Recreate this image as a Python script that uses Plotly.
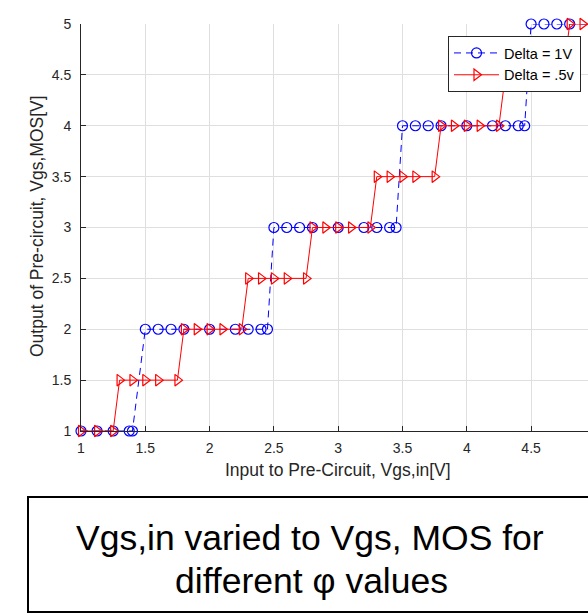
import plotly.graph_objects as go

# Delta = 1V series (blue circles, dashed line)
x_delta1 = [1.0, 1.125, 1.25, 1.375, 1.4,
            1.5, 1.6, 1.7, 1.8, 2.0, 2.2, 2.3, 2.4, 2.45,
            2.5, 2.6, 2.7, 2.8, 3.0, 3.2, 3.3, 3.4, 3.45,
            3.5, 3.6, 3.7, 3.8, 4.0, 4.2, 4.3, 4.4, 4.45,
            4.5, 4.6, 4.7, 4.8, 5.0]
y_delta1 = [1, 1, 1, 1, 1,
            2, 2, 2, 2, 2, 2, 2, 2, 2,
            3, 3, 3, 3, 3, 3, 3, 3, 3,
            4, 4, 4, 4, 4, 4, 4, 4, 4,
            5, 5, 5, 5, 5]

# Delta = .5v series (red triangles, solid line)
x_delta05 = [1.0, 1.125, 1.25,
             1.3, 1.4, 1.5, 1.6, 1.75,
             1.8, 1.9, 2.0, 2.1, 2.25,
             2.3, 2.4, 2.5, 2.6, 2.75,
             2.8, 2.9, 3.0, 3.1, 3.25,
             3.3, 3.4, 3.5, 3.6, 3.75,
             3.8, 3.9, 4.0, 4.1, 4.25,
             4.3, 4.4, 4.5, 4.6, 4.75,
             4.8, 4.9, 5.0]
y_delta05 = [1, 1, 1,
             1.5, 1.5, 1.5, 1.5, 1.5,
             2, 2, 2, 2, 2,
             2.5, 2.5, 2.5, 2.5, 2.5,
             3, 3, 3, 3, 3,
             3.5, 3.5, 3.5, 3.5, 3.5,
             4, 4, 4, 4, 4,
             4.5, 4.5, 4.5, 4.5, 4.5,
             5, 5, 5]

series_names = ["Delta = 1V", "Delta = .5v"]
x_title = "Input to Pre-Circuit, Vgs,in[V]"
y_title = "Output of Pre-circuit, Vgs,MOS[V]"
caption_lines = ["Vgs,in varied to Vgs, MOS for", "different φ values"]

FONT = "Liberation Sans, Arial, Helvetica, sans-serif"
AX = "#262626"
GRID = "#dfdfdf"

fig = go.Figure()
fig.add_trace(go.Scatter(
    x=x_delta1, y=y_delta1, name=series_names[0], mode="lines+markers",
    line=dict(color="#0000ff", width=1, dash="7px,5px"),
    marker=dict(symbol="circle-open", size=10, color="#0000ff", line=dict(width=1.2, color="#0000ff")),
    cliponaxis=False,
))
fig.add_trace(go.Scatter(
    x=x_delta05, y=y_delta05, name=series_names[1], mode="lines+markers",
    line=dict(color="#ff0000", width=1),
    marker=dict(symbol="triangle-right-open", size=10, color="#ff0000", line=dict(width=1.2, color="#ff0000")),
    cliponaxis=False,
))

W, H = 588, 615
L, R, T, B = 81, 0, 24, 184
pw = W - L - R
ph = H - T - B

def px_x(px):
    return (px - L) / pw

def px_y(py):
    return (H - B - py) / ph

axis_common = dict(
    showline=True, linecolor=AX, linewidth=1, mirror=False,
    ticks="inside", ticklen=5, tickcolor=AX, tickwidth=1,
    showgrid=True, gridcolor=GRID, gridwidth=1,
    zeroline=False, dtick=0.5, tick0=1,
    tickfont=dict(family=FONT, size=14, color=AX),
)

fig.update_xaxes(range=[1, 1 + pw / 128.6], ticklabelstandoff=4, **axis_common)
fig.update_yaxes(range=[1, 5], ticklabelstandoff=6, **axis_common)

fig.update_layout(
    width=W, height=H,
    margin=dict(l=L, r=R, t=T, b=B, pad=0),
    paper_bgcolor="white", plot_bgcolor="white",
    font=dict(family=FONT, color=AX),
    showlegend=True,
    legend=dict(
        x=px_x(581), y=px_y(36), xanchor="right", yanchor="top",
        bgcolor="white", bordercolor=AX, borderwidth=1,
        font=dict(family=FONT, size=14.5, color="#000000"),
        itemwidth=45, tracegroupgap=0,
    ),
)

annotations = [
    dict(text=x_title, xref="x", yref="paper", x=3.0, y=px_y(470),
         xanchor="center", yanchor="middle", showarrow=False,
         font=dict(family=FONT, size=17.5, color=AX)),
    dict(text=y_title, xref="paper", yref="paper", x=px_x(37), y=px_y(226),
         xanchor="center", yanchor="middle", showarrow=False, textangle=-90,
         font=dict(family=FONT, size=17.5, color=AX)),
    dict(text=caption_lines[0], xref="paper", yref="paper", x=px_x(310), y=px_y(538),
         xanchor="center", yanchor="middle", showarrow=False,
         font=dict(family=FONT, size=35.5, color="#000000")),
    dict(text=caption_lines[1], xref="paper", yref="paper", x=px_x(311), y=px_y(581),
         xanchor="center", yanchor="middle", showarrow=False,
         font=dict(family=FONT, size=35.5, color="#000000")),
]
fig.update_layout(annotations=annotations)

fig.add_shape(type="rect", xref="paper", yref="paper",
              x0=px_x(28), x1=px_x(605), y0=px_y(497), y1=px_y(612),
              line=dict(color="#000000", width=2), fillcolor="rgba(0,0,0,0)")

fig.write_html("out.html")
